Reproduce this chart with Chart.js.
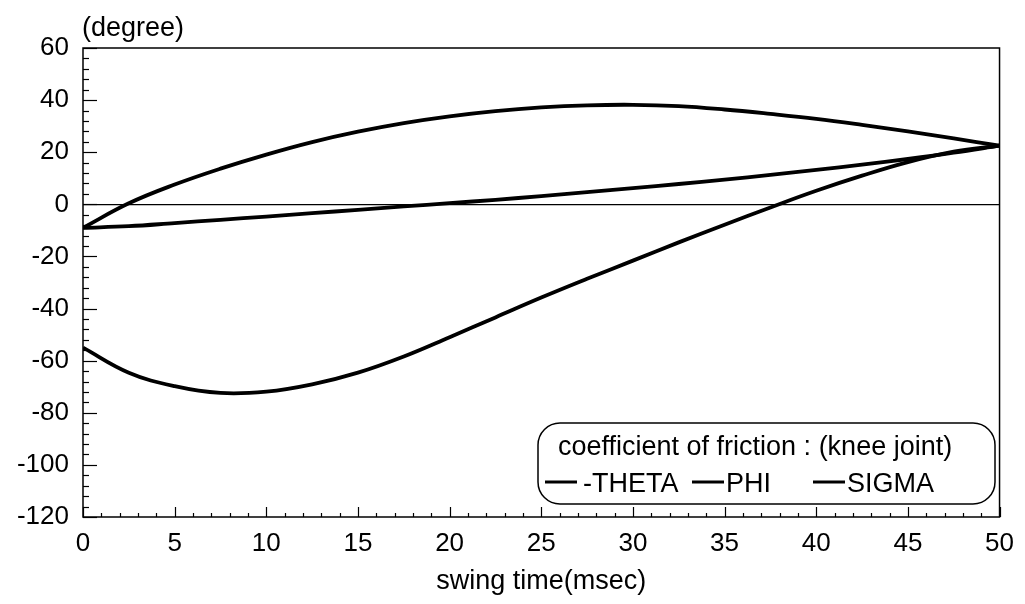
<!DOCTYPE html>
<html>
<head>
<meta charset="utf-8">
<title>swing time</title>
<script src="https://cdn.jsdelivr.net/npm/chart.js@4.4.0/dist/chart.umd.min.js"></script>
<style>
  body { margin: 0; background: #fff; }
  canvas { display: block; }
</style>
</head>
<body>
<canvas id="swingChart" width="1025" height="604"></canvas>
<script>
// swing time in msec
const swingTime = [0, 2.5, 5, 7.5, 10, 12.5, 15, 17.5, 20, 22.5, 25, 27.5, 30, 32.5, 35, 37.5, 40, 42.5, 45, 47.5, 50];

// joint angles in degree
const minusTheta = [-9, 0.4, 7.6, 13.7, 19.1, 23.9, 27.9, 31.2, 33.8, 35.8, 37.2, 38.0, 38.2, 37.7, 36.4, 34.7, 32.8, 30.5, 28.0, 25.3, 22.5];
const phi = [-55, -64.6, -69.8, -72.4, -71.9, -69.1, -64.6, -58.4, -51.0, -43.4, -35.8, -28.6, -21.6, -14.6, -7.8, -1.2, 5.2, 11.0, 16.2, 20.2, 22.5];
const sigma = [-9, -8.4, -7.2, -5.95, -4.7, -3.4, -2.1, -0.8, 0.45, 1.75, 3.15, 4.65, 6.2, 7.8, 9.5, 11.3, 13.2, 15.2, 17.4, 19.8, 22.5];

const seriesLabels = ['-THETA', 'PHI', 'SIGMA'];
const legendTitle = 'coefficient of friction : (knee joint)';
const yUnit = '(degree)';
const xTitle = 'swing time(msec)';

const FONT = "'Liberation Sans', Arial, Helvetica, sans-serif";

function toPoints(values) {
    return swingTime.map((t, i) => ({ x: t, y: values[i] }));
}

// frame, inward ticks, unit label and legend box
const framePlugin = {
    id: 'frame',
    afterDraw(chart) {
        const ctx = chart.ctx;
        const area = chart.chartArea;
        const xs = chart.scales.x;
        const ys = chart.scales.y;
        ctx.save();
        ctx.strokeStyle = '#000';

        // box around the plot
        ctx.lineWidth = 1.5;
        ctx.strokeRect(area.left, area.top, area.right - area.left, area.bottom - area.top);

        // y ticks, minor every 4, major every 20
        ctx.lineWidth = 1.2;
        for (let v = ys.min; v <= ys.max; v += 4) {
            const py = Math.round(ys.getPixelForValue(v)) + 0.5;
            const len = v % 20 === 0 ? 14 : 6;
            ctx.beginPath();
            ctx.moveTo(area.left, py);
            ctx.lineTo(area.left + len, py);
            ctx.stroke();
        }
        // x ticks, minor every 1, major every 5
        for (let v = xs.min; v <= xs.max; v += 1) {
            const px = Math.round(xs.getPixelForValue(v)) + 0.5;
            const len = v % 5 === 0 ? 10 : 4;
            ctx.beginPath();
            ctx.moveTo(px, area.bottom);
            ctx.lineTo(px, area.bottom - len);
            ctx.stroke();
        }

        // unit above the y axis
        ctx.fillStyle = '#000';
        ctx.font = '27px ' + FONT;
        ctx.textAlign = 'left';
        ctx.textBaseline = 'alphabetic';
        ctx.fillText(yUnit, 82, 36);

        // legend
        const bx = 538, by = 423, bw = 457, bh = 81, r = 22;
        ctx.fillStyle = '#fff';
        ctx.lineWidth = 1.5;
        ctx.beginPath();
        ctx.roundRect(bx, by, bw, bh, r);
        ctx.fill();
        ctx.stroke();

        ctx.fillStyle = '#000';
        ctx.font = '27px ' + FONT;
        ctx.fillText(legendTitle, 558, 455);

        const itemX = [545, 692, 813];
        const gap = [6, 2, 2];
        const lineY = 482;
        chart.data.datasets.forEach((ds, i) => {
            ctx.lineWidth = 3;
            ctx.strokeStyle = ds.borderColor;
            ctx.beginPath();
            ctx.moveTo(itemX[i], lineY);
            ctx.lineTo(itemX[i] + 32, lineY);
            ctx.stroke();
            ctx.fillText(ds.label, itemX[i] + 32 + gap[i], 492);
        });
        ctx.restore();
    }
};

const lineStyle = {
    borderColor: '#000',
    borderWidth: 3.8,
    pointRadius: 0,
    tension: 0.4,
    fill: false
};

new Chart(document.getElementById('swingChart').getContext('2d'), {
    type: 'line',
    data: {
        datasets: [
            Object.assign({ label: seriesLabels[0], data: toPoints(minusTheta) }, lineStyle),
            Object.assign({ label: seriesLabels[1], data: toPoints(phi) }, lineStyle),
            Object.assign({ label: seriesLabels[2], data: toPoints(sigma) }, lineStyle)
        ]
    },
    options: {
        responsive: false,
        animation: false,
        devicePixelRatio: 1,
        layout: {
            padding: { top: 48, right: 23, left: 0, bottom: 0 }
        },
        plugins: {
            legend: { display: false },
            tooltip: { enabled: false }
        },
        scales: {
            x: {
                type: 'linear',
                min: 0,
                max: 50,
                border: { display: false },
                grid: { display: false, drawTicks: false },
                ticks: {
                    stepSize: 5,
                    padding: 11,
                    color: '#000',
                    font: { family: FONT, size: 26 }
                },
                title: {
                    display: true,
                    text: xTitle,
                    color: '#000',
                    font: { family: FONT, size: 27 },
                    padding: { top: 0, bottom: 6 }
                },
                afterFit(scale) {
                    scale.height = 87;
                }
            },
            y: {
                min: -120,
                max: 60,
                border: { display: false },
                grid: {
                    drawTicks: false,
                    lineWidth: 1.2,
                    // only the zero line is drawn across the plot
                    color: c => (c.tick && c.tick.value === 0) ? '#000' : 'rgba(0,0,0,0)'
                },
                ticks: {
                    stepSize: 20,
                    padding: 14,
                    color: '#000',
                    font: { family: FONT, size: 26 }
                },
                afterFit(scale) {
                    scale.width = 83;
                }
            }
        }
    },
    plugins: [framePlugin]
});
</script>
</body>
</html>
